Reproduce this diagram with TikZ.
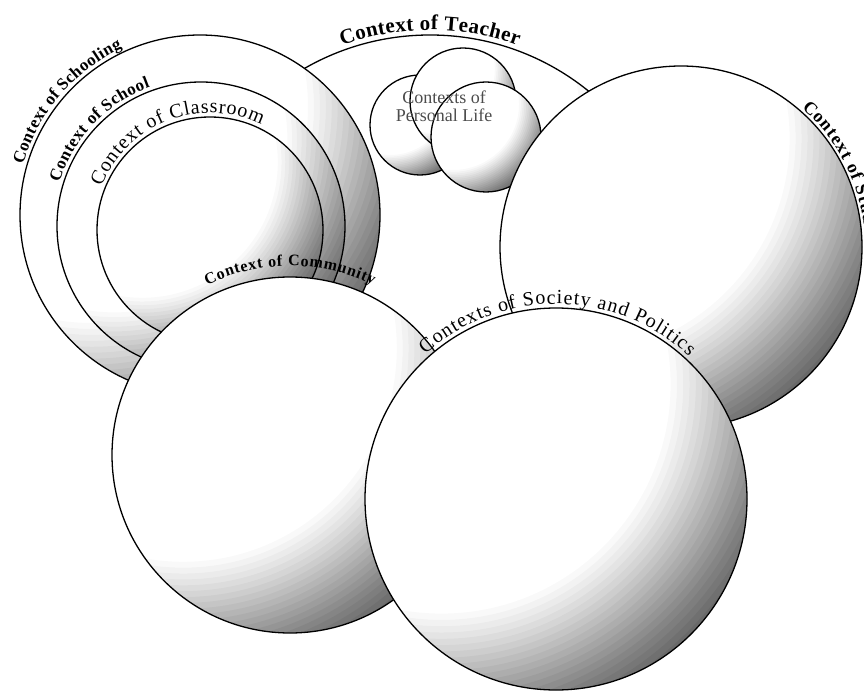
\documentclass[tikz,border=0pt]{standalone}
\usepackage{fontspec}
\setmainfont{Liberation Serif}
\usetikzlibrary{decorations.text,calc}
\tikzset{
  rim/.style={draw=black, line width=1.3pt},
  arclabel/.style={decorate, decoration={text along path, text align=fit to path, text={#1}}}
}
% shaded sphere: #1 centre coordinate name, #2 radius
\newcommand\mysphere[2]{%
  \begin{scope}
    \clip (#1) circle[radius=#2];
    \fill[white] (#1) circle[radius=#2];
    \foreach \k in {0,...,21} {
      \pgfmathsetmacro\rr{(1.2+0.033*\k)*#2}
      \pgfmathsetmacro\op{0.024+0.0017*\k}
      \fill[black, fill opacity=\op, even odd rule]
        ($(#1)+(-0.6*#2,0.6*#2)$) circle[radius=\rr]
        ($(#1)+(-#2-4,-#2-4)$) rectangle ($(#1)+(#2+4,#2+4)$);
    }
  \end{scope}
  \path[rim] (#1) circle[radius=#2];
}
\begin{document}
\begin{tikzpicture}[x=1pt,y=1pt]
\useasboundingbox (0,0) rectangle (864,-692);
\fill[white] (0,0) rectangle (864,-692);
% centres
\coordinate (T) at (430,-287);
\coordinate (PLa) at (420,-125);
\coordinate (PLb) at (463,-101);
\coordinate (PLc) at (486,-137);
\coordinate (S1) at (200,-215);
\coordinate (S2) at (201,-226);
\coordinate (S3) at (210,-230);
\coordinate (St) at (681,-247);
\coordinate (Cm) at (290,-455);
\coordinate (So) at (556,-499);
% Teacher
\mysphere{T}{252}
\path[arclabel={|\bfseries\fontsize{21pt}{24pt}\selectfont|Context of Teacher}] (T) ++(110:257) arc[start angle=110, end angle=70, radius=257];
% Personal life
\mysphere{PLa}{50}
\mysphere{PLb}{53}
\mysphere{PLc}{55}
\node[text=black!70, align=center, font=\fontsize{18pt}{18pt}\selectfont] (pl) at (444,-106) {Contexts of\\Personal Life};
% Schooling rings
\mysphere{S1}{180}
\mysphere{S2}{144}
\mysphere{S3}{113}
\path[arclabel={|\bfseries\fontsize{17pt}{20pt}\selectfont|Context of Schooling}] (S1) ++(164:184) arc[start angle=164, end angle=115, radius=184];
\path[arclabel={|\bfseries\fontsize{17pt}{20pt}\selectfont|Context of School}] (S2) ++(163:148) arc[start angle=163, end angle=110, radius=148];
\path[arclabel={|\fontsize{20pt}{23pt}\selectfont|Context of Classroom}] (S3) ++(158:117) arc[start angle=158, end angle=64, radius=117];
% Students
\mysphere{St}{181}
\path[arclabel={|\bfseries\fontsize{18pt}{21pt}\selectfont|Context of Students}] (St) ++(49:184) arc[start angle=49, end angle=-4, radius=184];
% Community
\mysphere{Cm}{178}
\path[arclabel={|\bfseries\fontsize{16pt}{19pt}\selectfont|Context of Community}] (Cm) ++(116:189) arc[start angle=116, end angle=64, radius=189];
% Society
\mysphere{So}{191}
\path[arclabel={|\fontsize{20pt}{23pt}\selectfont|Contexts of Society and Politics}] (So) ++(132:195) arc[start angle=132, end angle=47, radius=195];
\end{tikzpicture}
\end{document}
